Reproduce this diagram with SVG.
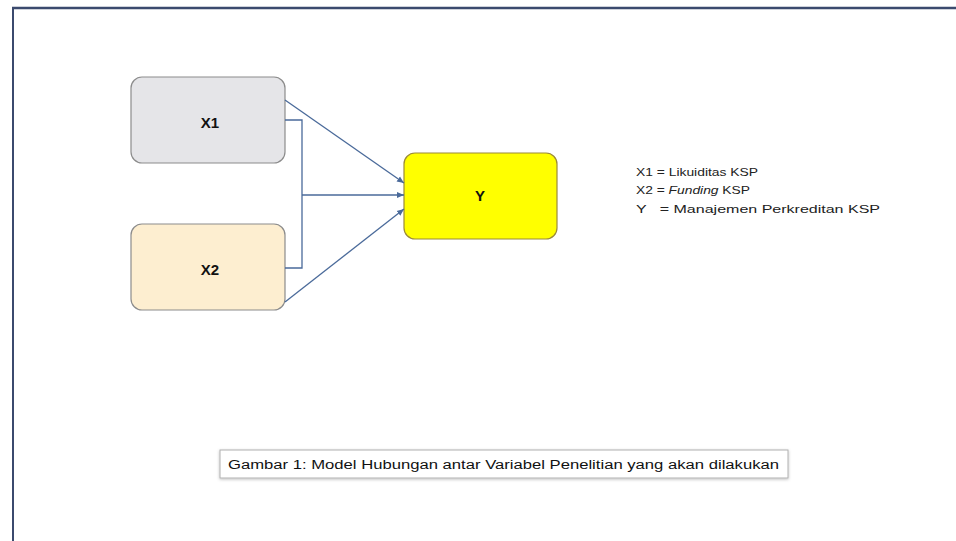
<svg xmlns="http://www.w3.org/2000/svg" width="956" height="541" viewBox="0 0 956 541">
<defs>
<marker id="arr" markerWidth="8" markerHeight="8" refX="7" refY="4" orient="auto" markerUnits="userSpaceOnUse">
<path d="M0,1 L7,4 L0,7 z" fill="#4a6a9a"/>
</marker>
<filter id="sh" x="-5%" y="-20%" width="110%" height="150%">
<feDropShadow dx="0" dy="1" stdDeviation="1.5" flood-color="#000" flood-opacity="0.25"/>
</filter>
<style>
.node{stroke-width:1.2}
.lbl{font-family:"Liberation Sans",Arial,sans-serif;font-weight:bold;font-size:15px;fill:#111;text-anchor:middle}
.leg{font-family:"Liberation Sans",Arial,sans-serif;font-size:11.5px;fill:#222}
.cap{font-family:"Liberation Sans",Arial,sans-serif;font-size:12.5px;fill:#111}
.con{fill:none;stroke:#4a6a9a;stroke-width:1.3}
</style>
</defs>
<rect x="0" y="0" width="956" height="541" fill="#ffffff"/>
<g id="frame">
<line x1="12" y1="8" x2="956" y2="8" stroke="#3b4a6e" stroke-width="2.5"/>
<line x1="13" y1="7" x2="13" y2="541" stroke="#3b4a6e" stroke-width="2"/>
</g>
<g id="X1">
<rect class="node" x="131" y="77" width="154" height="86" rx="11" fill="#e5e5e8" stroke="#8c8c8c"/>
<text class="lbl" x="210" y="128">X1</text>
</g>
<g id="X2">
<rect class="node" x="131" y="224" width="154" height="86" rx="11" fill="#fdeed0" stroke="#8c8c8c"/>
<text class="lbl" x="210" y="275">X2</text>
</g>
<g id="Y">
<rect class="node" x="404" y="153" width="153" height="86" rx="11" fill="#ffff00" stroke="#9a8a3a"/>
<text class="lbl" x="480" y="201">Y</text>
</g>
<g id="connectors">
<line class="con" x1="285" y1="100" x2="404" y2="183" marker-end="url(#arr)"/>
<polyline class="con" points="285,120 302,120 302,268 285,268"/>
<line class="con" x1="302" y1="195" x2="404" y2="195" marker-end="url(#arr)"/>
<line class="con" x1="285" y1="302" x2="404" y2="209" marker-end="url(#arr)"/>
</g>
<g id="legend">
<text class="leg" x="636" y="176" textLength="122" lengthAdjust="spacingAndGlyphs">X1 = Likuiditas KSP</text>
<text class="leg" x="636" y="194" textLength="114" lengthAdjust="spacingAndGlyphs">X2 = <tspan font-style="italic">Funding</tspan> KSP</text>
<text class="leg" x="636" y="213" textLength="244" lengthAdjust="spacingAndGlyphs" xml:space="preserve">Y   = Manajemen Perkreditan KSP</text>
</g>
<g id="caption">
<rect x="220" y="450" width="568" height="28" fill="#ffffff" stroke="#b0b0b0" stroke-width="1" filter="url(#sh)"/>
<text class="cap" x="228" y="469" textLength="551" lengthAdjust="spacingAndGlyphs">Gambar 1: Model Hubungan antar Variabel Penelitian yang akan dilakukan</text>
</g>
</svg>
